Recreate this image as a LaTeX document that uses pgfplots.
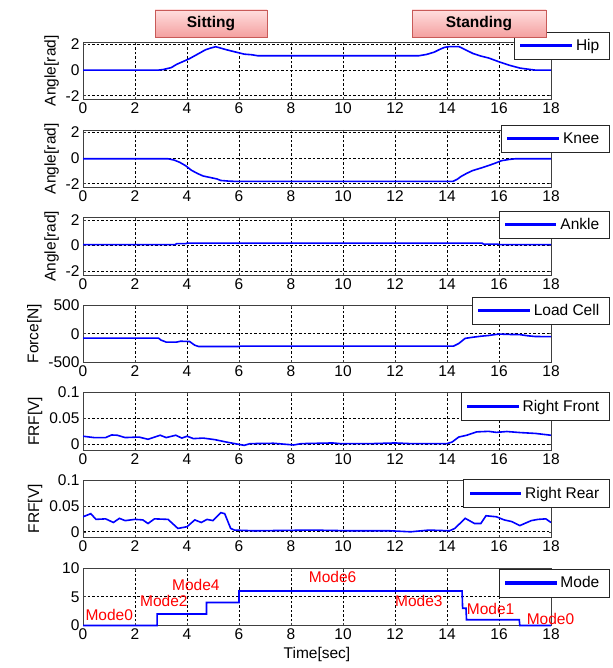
\documentclass[border=0pt]{standalone}
\usepackage{fontspec}
\setmainfont{Liberation Sans}
\usepackage{pgfplots}
\pgfplotsset{compat=1.18}
\usetikzlibrary{shadings}
\newcommand{\fs}{\fontsize{15.5}{18}\selectfont}
\definecolor{boxborder}{RGB}{200,90,88}
\definecolor{boxtop}{RGB}{255,222,222}
\definecolor{boxbot}{RGB}{244,160,160}
\pgfplotsset{
 myax/.style={
  scale only axis, width=468pt, height=57.5pt,
  xmin=0, xmax=18, xtick={0,2,...,18},
  grid=major,
  major grid style={black, line width=0.65pt, dash pattern=on 2.5pt off 2pt},
  axis line style={black!75, line width=0.7pt},
  tick style={black!75, line width=0.6pt},
  major tick length=2.5pt, tick align=inside,
  /pgf/number format/assume math mode=true,
  tick label style={font=\fs},
  label style={font=\fs},
  legend style={font=\fs, anchor=north east, draw=black!85, outer sep=0pt,
     inner xsep=6pt, inner ysep=5pt, nodes={inner xsep=4pt, inner ysep=2.5pt}},
  legend image code/.code={\fill[blue] (0pt,-0.8pt) rectangle (50pt,0.8pt);},
  anchor=north west,
 },
 angax/.style={myax, ymin=-2.3, ymax=2.2, ytick={-2,0,2}, yticklabels={-2,0,2}, ylabel={Angle[rad]}},
 frfax/.style={myax, ymin=-0.011, ymax=0.1, ytick={0,0.05,0.1}, yticklabels={0,0.05,0.1}, ylabel={FRF[V]}},
 ln/.style={blue, line width=1.6pt, mark=none},
}
\begin{document}
\begin{tikzpicture}
\useasboundingbox (0,0) rectangle (612pt,-668pt);

% Hip
\begin{axis}[angax, at={(83pt,-42pt)}, legend style={at={(1.1245,1.179)}}]
\addplot[ln] coordinates {(0,0) (2.9,0) (3.1,0.05) (3.4,0.2) (3.6,0.45) (3.87,0.69) (4.1,0.9) (4.32,1.15) (4.5,1.35) (4.7,1.58) (4.9,1.72) (5.1,1.83) (5.25,1.75) (5.45,1.63) (5.7,1.5) (5.9,1.4) (6.2,1.25) (6.5,1.2) (6.73,1.12) (12.9,1.12) (13.2,1.22) (13.5,1.4) (13.7,1.6) (13.9,1.78) (14.1,1.84) (14.46,1.84) (14.7,1.6) (15.0,1.3) (15.3,1.1) (15.6,0.95) (16.0,0.65) (16.4,0.38) (16.8,0.16) (17.2,0.05) (17.4,0) (18,0)};
\addlegendentry{Hip}
\end{axis}

% Knee
\begin{axis}[angax, at={(83pt,-130pt)}, legend style={at={(1.1245,1.087)}}]
\addplot[ln] coordinates {(0,-0.05) (3.27,-0.05) (3.5,-0.15) (3.72,-0.33) (3.95,-0.6) (4.17,-0.95) (4.4,-1.2) (4.62,-1.4) (4.9,-1.52) (5.15,-1.63) (5.3,-1.75) (5.6,-1.8) (5.83,-1.82) (14.23,-1.82) (14.4,-1.65) (14.53,-1.45) (14.75,-1.2) (14.98,-0.98) (15.3,-0.78) (15.6,-0.58) (15.85,-0.4) (16.1,-0.2) (16.4,-0.1) (16.64,-0.05) (18,-0.05)};
\addlegendentry{Knee}
\end{axis}

% Ankle
\begin{axis}[angax, at={(83pt,-217.5pt)}, legend style={at={(1.1245,1.118)}}]
\addplot[ln] coordinates {(0,0.08) (3.55,0.08) (3.6,0.15) (3.95,0.15) (4.0,0.2) (15.35,0.2) (15.4,0.12) (15.95,0.12) (16.0,0.08) (18,0.08)};
\addlegendentry{Ankle}
\end{axis}

% Load cell
\begin{axis}[myax, at={(83pt,-305pt)}, ymin=-500, ymax=500, ytick={-500,0,500}, yticklabels={-500,0,500}, ylabel={Force[N]}, legend style={at={(1.1245,1.144)}}]
\addplot[ln] coordinates {(0,-75) (2.9,-75) (3.0,-110) (3.2,-145) (3.6,-145) (3.75,-130) (4.1,-135) (4.3,-200) (4.45,-222) (6.0,-222) (6.05,-215) (14.25,-215) (14.45,-170) (14.7,-80) (15.0,-60) (15.3,-43) (15.6,-30) (16.0,-5) (16.4,-12) (16.8,-15) (17.1,-35) (17.4,-48) (18,-50)};
\addlegendentry{Load Cell}
\end{axis}

% Right Front
\begin{axis}[frfax, at={(83pt,-392.5pt)}, legend style={at={(1.1245,1.0)}}]
\addplot[ln] coordinates {(0,0.0156) (0.42,0.013) (0.87,0.013) (1.1,0.018) (1.32,0.0175) (1.62,0.013) (2.15,0.014) (2.5,0.0097) (2.97,0.0175) (3.2,0.013) (3.57,0.0175) (3.8,0.012) (4.0,0.0156) (4.25,0.011) (4.62,0.012) (5.07,0.009) (5.5,0.0045) (5.98,0) (6.2,-0.002) (6.43,0.0013) (7.33,0.002) (8.1,-0.0013) (8.4,0.0013) (9.6,0.0026) (9.9,0.0013) (11.1,0.0013) (12.0,0.0026) (12.6,0.0013) (14.0,0.0013) (14.2,0.0045) (14.45,0.014) (14.76,0.0175) (15.14,0.024) (15.6,0.025) (15.9,0.023) (16.3,0.0247) (16.8,0.0227) (17.4,0.021) (18,0.0175)};
\addlegendentry{Right Front}
\end{axis}

% Right Rear
\begin{axis}[frfax, at={(83pt,-480pt)}, legend style={at={(1.1245,1.01)}}]
\addplot[ln] coordinates {(0,0.029) (0.3,0.035) (0.5,0.024) (0.87,0.025) (1.17,0.018) (1.4,0.026) (1.62,0.0216) (2.0,0.024) (2.3,0.023) (2.5,0.016) (2.75,0.025) (3.27,0.024) (3.65,0.0065) (4.0,0.0098) (4.3,0.023) (4.55,0.018) (4.77,0.024) (5.0,0.0216) (5.3,0.037) (5.45,0.035) (5.68,0.0065) (5.83,0.0033) (6.58,0.002) (8.8,0.0033) (10.3,0.002) (11.8,0.002) (12.6,0) (13.3,0.0033) (14.1,0.002) (14.3,0.0065) (14.7,0.026) (15.06,0.016) (15.3,0.016) (15.5,0.031) (15.9,0.029) (16.2,0.023) (16.5,0.0196) (16.8,0.012) (17.24,0.0216) (17.5,0.024) (17.8,0.025) (18,0.018)};
\addlegendentry{Right Rear}
\end{axis}

% Mode
\begin{axis}[myax, at={(83pt,-568pt)}, ymin=0, ymax=10, ytick={0,5,10}, yticklabels={0,5,10}, xlabel={Time[sec]}, clip=false, legend style={at={(1.1245,0.98)}}]
\addplot[ln] coordinates {(0,0) (2.85,0) (2.85,2) (4.75,2) (4.75,4) (6.0,4) (6.0,6) (14.58,6) (14.6,3) (14.73,3) (14.75,1) (16.78,1) (16.8,0) (18,0)};
\addlegendentry{Mode}
\begin{scope}[every node/.style={red, font=\fs, anchor=west, inner sep=0pt}]
\node at (axis cs:0.09,1.9) {Mode0};
\node at (axis cs:2.19,4.33) {Mode2};
\node at (axis cs:3.42,7.05) {Mode4};
\node at (axis cs:8.68,8.4) {Mode6};
\node at (axis cs:12.0,4.2) {Mode3};
\node at (axis cs:14.76,2.9) {Mode1};
\node at (axis cs:17.06,1.16) {Mode0};
\end{scope}
\end{axis}

% Title boxes
\node[draw=boxborder, line width=0.7pt, top color=boxtop, bottom color=boxbot, minimum width=112pt, minimum height=27pt, inner sep=0pt, font=\bfseries\fs] at (211pt,-23.5pt) {Sitting};
\node[draw=boxborder, line width=0.7pt, top color=boxtop, bottom color=boxbot, minimum width=134pt, minimum height=27pt, inner sep=0pt, font=\bfseries\fs] at (479pt,-23.5pt) {Standing};
\end{tikzpicture}
\end{document}
